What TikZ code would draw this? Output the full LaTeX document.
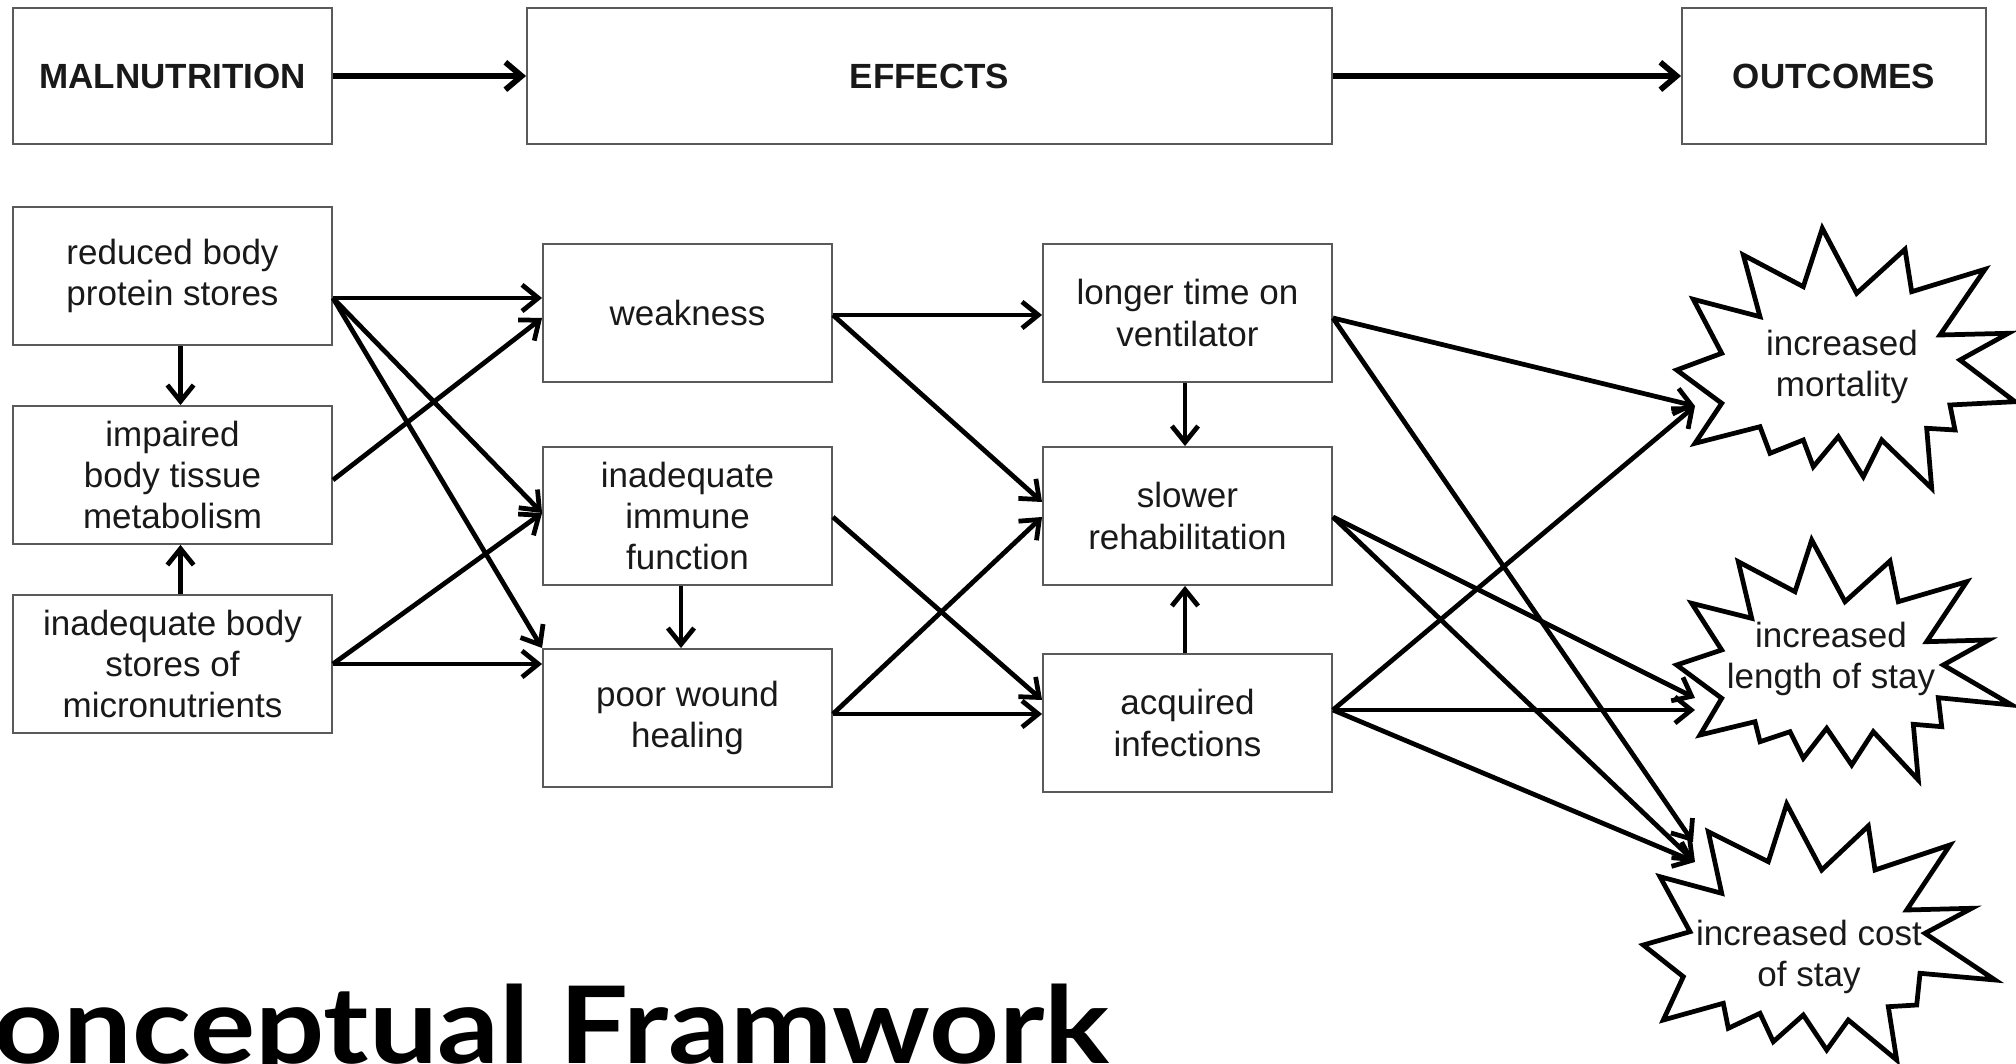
\documentclass[tikz,border=0pt]{standalone}
\usepackage{fontspec}
\setmainfont{Liberation Sans}
\newfontfamily\titlefont{Lato}
\usetikzlibrary{arrows.meta,calc}
\definecolor{boxgray}{HTML}{5A5A5A}
\begin{document}
\begin{tikzpicture}[x=0.4pt,y=-0.4pt,
  basebox/.style={draw=boxgray, line width=0.75pt, fill=white, inner sep=0pt,
    align=center, font=\fontsize{14}{16.5}\selectfont, text=black!90},
  midbox/.style={basebox, minimum width=115.6pt, minimum height=55.2pt},
  leftbox/.style={basebox, minimum width=127.6pt, minimum height=55.2pt},
  headbox/.style={basebox, minimum height=54.4pt, font=\fontsize{14}{16.5}\selectfont\bfseries},
  arr/.style={line width=1.9pt, -{Straight Barb[length=6.5pt,width=10.5pt]}},
  toparr/.style={line width=2.3pt, -{Straight Barb[length=6.5pt,width=11pt]}},
  starline/.style={line width=1.9pt, line join=miter, fill=white},
  startext/.style={align=center, inner sep=0pt, font=\fontsize{14}{16.5}\selectfont, text=black!90}]
\clip (0,0) rectangle (2016,1064);
\fill[white] (0,0) rectangle (2016,1064);

% top row
\node[headbox, minimum width=127.6pt] (mal) at (172.5,76) {MALNUTRITION};
\node[headbox, minimum width=322pt] (eff) at (929.5,76) {EFFECTS};
\node[headbox, minimum width=121.6pt] (out) at (1834,76) {OUTCOMES};
\draw[toparr] (mal.east) -- (eff.west);
\draw[toparr] (eff.east) -- (out.west);

% left column
\node[leftbox] (red) at (172.5,276) {reduced body\\protein stores};
\node[leftbox] (imp) at (172.5,475) {impaired\\body tissue\\metabolism};
\node[leftbox] (mic) at (172.5,664) {inadequate body\\stores of\\micronutrients};

% middle columns
\node[midbox] (weak) at (687.5,313) {weakness};
\node[midbox] (imm) at (687.5,516) {inadequate\\immune\\function};
\node[midbox] (poor) at (687.5,718) {poor wound\\healing};
\node[midbox] (vent) at (1187.5,313) {longer time on\\ventilator};
\node[midbox] (slow) at (1187.5,516) {slower\\rehabilitation};
\node[midbox] (acq) at (1187.5,723) {acquired\\infections};

% stars
\draw[starline] (1822.3,228.3) -- (1856.7,293.3) -- (1905,249.3) -- (1911.7,291.7)
  -- (1985,269.3) -- (1940,335) -- (2008.3,333.3) -- (1960,360) -- (2015,401.7)
  -- (1950,405) -- (1955,430) -- (1926.7,428.3) -- (1931.7,488.3) -- (1881.7,440)
  -- (1863.3,476.7) -- (1838.3,436.7) -- (1813.3,466.7) -- (1803.3,440)
  -- (1770,453.3) -- (1760,426.7) -- (1695,443.3) -- (1721.7,403.3)
  -- (1676.7,370) -- (1721.7,353.3) -- (1693.3,299.3) -- (1760,316.7)
  -- (1743.3,255) -- (1803.3,286.7) -- cycle;
\node[startext] (mort) at (1842,367) {increased\\mortality};

\draw[starline] (1811.7,540) -- (1845,601.7) -- (1890,561) -- (1898.3,601.7)
  -- (1966.7,581.7) -- (1926.7,641.7) -- (1988.3,640) -- (1943.3,665)
  -- (2011.7,705) -- (1938.3,697.7) -- (1941.7,726.7) -- (1913.3,724.3)
  -- (1918.3,780) -- (1873.3,731.7) -- (1851.7,765) -- (1826.7,728.3)
  -- (1803.3,758.3) -- (1790,731.7) -- (1760,741.7) -- (1755,721.7)
  -- (1700,735) -- (1721.7,698.3) -- (1676.7,665) -- (1721.7,650)
  -- (1691.7,603.3) -- (1751.7,618.3) -- (1738.3,561.7) -- (1795,591.7) -- cycle;
\node[startext] (len) at (1831,659) {increased\\length of stay};

\draw[starline] (1786.7,804) -- (1821.7,870) -- (1868.3,826) -- (1875,870)
  -- (1950,845) -- (1906.7,910) -- (1971.7,908.3) -- (1925,933.3)
  -- (1995,980) -- (1920,973.3) -- (1916.7,1005) -- (1888.3,1006.7)
  -- (1896.7,1060) -- (1848.3,1020) -- (1826.7,1050) -- (1803.3,1015)
  -- (1773.3,1041.7) -- (1760,1013.3) -- (1728.3,1028.3) -- (1723.3,1003.3)
  -- (1663.3,1020) -- (1683.3,976.7) -- (1643.3,945) -- (1690,931.7)
  -- (1660,876.7) -- (1721.7,893.3) -- (1708.3,831.7) -- (1768.3,861.7) -- cycle;
\node[startext] (cost) at (1809,957) {increased cost\\of stay};

\coordinate (mortin) at (1695,406);
\coordinate (lenin1) at (1695,698);
\coordinate (lenin2) at (1695,710);
\coordinate (costin1) at (1693,842);
\coordinate (costin2) at (1695,862);

% left -> middle
\draw[arr] ($(red.east)+(0,22)$) -- ($(weak.west)+(0,-15)$);
\draw[arr] ($(imp.east)+(0,5)$) -- ($(weak.west)+(0,5)$);
\draw[arr] ($(red.east)+(0,22)$) -- ($(imm.west)+(0,-3)$);
\draw[arr] ($(red.east)+(0,22)$) -- ($(poor.west)+(0,-70)$);
\draw[arr] (mic.east) -- ($(imm.west)+(0,-3)$);
\draw[arr] (mic.east) -- ($(poor.west)+(0,-54)$);
\draw[arr] ($(red.south)+(8,0)$) -- ($(imp.north)+(8,0)$);
\draw[arr] ($(mic.north)+(8,0)$) -- ($(imp.south)+(8,0)$);

% middle -> middle
\draw[arr] ($(weak.east)+(0,2)$) -- ($(vent.west)+(0,2)$);
\draw[arr] ($(weak.east)+(0,2)$) -- ($(slow.west)+(0,-14)$);
\draw[arr] ($(poor.east)+(0,-4)$) -- ($(slow.west)+(0,1)$);
\draw[arr] ($(imm.east)+(0,1)$) -- ($(acq.west)+(0,-23)$);
\draw[arr] ($(poor.east)+(0,-4)$) -- ($(acq.west)+(0,-9)$);
\draw[arr] ($(imm.south)+(-6.5,0)$) -- ($(poor.north)+(-6.5,0)$);
\draw[arr] ($(vent.south)+(-2.5,0)$) -- ($(slow.north)+(-2.5,0)$);
\draw[arr] ($(acq.north)+(-2.5,0)$) -- ($(slow.south)+(-2.5,0)$);

% middle -> outcomes
\draw[arr] ($(vent.east)+(0,5)$) -- (mortin);
\draw[arr] ($(acq.east)+(0,-13)$) -- (mortin);
\draw[arr] ($(slow.east)+(0,1)$) -- (lenin1);
\draw[arr] ($(acq.east)+(0,-13)$) -- (lenin2);
\draw[arr] ($(vent.east)+(0,5)$) -- (costin1);
\draw[arr] ($(slow.east)+(0,1)$) -- (costin2);
\draw[arr] ($(acq.east)+(0,-13)$) -- (costin2);

% title
\node[anchor=base east, inner sep=0pt] (title) at (1110,1064)
  {\scalebox{1.14}[1]{\titlefont\bfseries\fontsize{42.8}{50}\selectfont onceptual Framwork}};
\end{tikzpicture}
\end{document}
